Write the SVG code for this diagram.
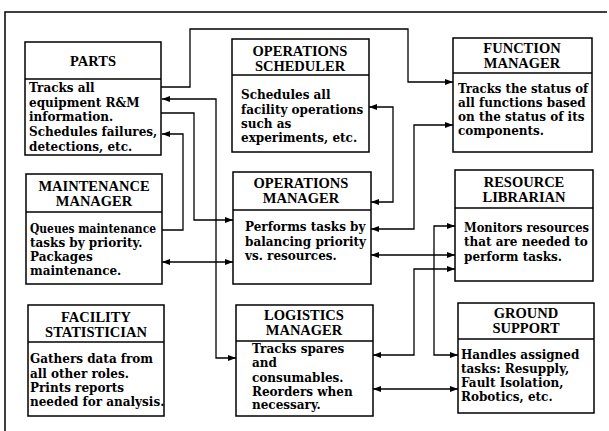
<svg xmlns="http://www.w3.org/2000/svg" width="609" height="431" viewBox="0 0 609 431">
<style>
.bg{fill:#ffffff}
.frame{fill:none;stroke:#000;stroke-width:1.5}
.box{fill:#fff;stroke:#000;stroke-width:1.5}
.div{stroke:#000;stroke-width:1.3}
.hd{font-family:"Liberation Serif","Times New Roman",serif;font-weight:bold;font-size:14.5px;text-anchor:middle;fill:#000}
.bd{font-family:"DejaVu Serif","Liberation Serif",serif;font-weight:bold;font-size:12px;fill:#000}
.cn{fill:none;stroke:#000;stroke-width:1.3}
</style>
<defs>
<marker id="ah" viewBox="0 0 8 6" refX="8" refY="3" markerWidth="8" markerHeight="6" markerUnits="userSpaceOnUse" orient="auto-start-reverse">
<path d="M0,0 L8,3 L0,6 Z" fill="#000"/>
</marker>
</defs>
<rect class="bg" x="0" y="0" width="609" height="431"/>
<path class="frame" d="M5,431 V12 H607"/>

<g id="connectors">
<path class="cn" d="M161,87 H190 V29 H408 V82 H453" marker-end="url(#ah)"/>
<path class="cn" d="M162,99 H216 V358 H236" marker-start="url(#ah)" marker-end="url(#ah)"/>
<path class="cn" d="M161,113 H194 V220 H233" marker-end="url(#ah)"/>
<path class="cn" d="M162,230 H183 V134 H162" marker-end="url(#ah)"/>
<path class="cn" d="M162,262 H233" marker-start="url(#ah)" marker-end="url(#ah)"/>
<path class="cn" d="M369,107 H393 V202 H371" marker-start="url(#ah)" marker-end="url(#ah)"/>
<path class="cn" d="M371,229 H414 V125 H453" marker-start="url(#ah)" marker-end="url(#ah)"/>
<path class="cn" d="M371,255 H455" marker-start="url(#ah)" marker-end="url(#ah)"/>
<path class="cn" d="M373,355 H414 V269 H455" marker-start="url(#ah)" marker-end="url(#ah)"/>
<path class="cn" d="M455,226 H434 V355 H458" marker-start="url(#ah)" marker-end="url(#ah)"/>
<path class="cn" d="M373,389 H458" marker-start="url(#ah)" marker-end="url(#ah)"/>
</g>

<g id="parts">
<rect class="box" x="25" y="42" width="136" height="113"/>
<line class="div" x1="25" y1="79" x2="161" y2="79"/>
<text class="hd" x="93" y="66">PARTS</text>
<text class="bd" x="29" y="92">Tracks all</text>
<text class="bd" x="29" y="107">equipment R&amp;M</text>
<text class="bd" x="29" y="121">information.</text>
<text class="bd" x="29" y="136">Schedules failures,</text>
<text class="bd" x="29" y="151">detections, etc.</text>
</g>

<g id="operations-scheduler">
<rect class="box" x="232" y="39" width="137" height="113"/>
<line class="div" x1="232" y1="75" x2="369" y2="75"/>
<text class="hd" x="300" y="56">OPERATIONS</text>
<text class="hd" x="300" y="71">SCHEDULER</text>
<text class="bd" x="241" y="99">Schedules all</text>
<text class="bd" x="241" y="114">facility operations</text>
<text class="bd" x="241" y="128">such as</text>
<text class="bd" x="241" y="142">experiments, etc.</text>
</g>

<g id="function-manager">
<rect class="box" x="453" y="38" width="139" height="114"/>
<line class="div" x1="453" y1="73" x2="592" y2="73"/>
<text class="hd" x="522" y="53">FUNCTION</text>
<text class="hd" x="522" y="68">MANAGER</text>
<text class="bd" x="458" y="93" textLength="130" lengthAdjust="spacingAndGlyphs">Tracks the status of</text>
<text class="bd" x="458" y="107">all functions based</text>
<text class="bd" x="458" y="121">on the status of its</text>
<text class="bd" x="458" y="135">components.</text>
</g>

<g id="maintenance-manager">
<rect class="box" x="26" y="174" width="136" height="110"/>
<line class="div" x1="26" y1="212" x2="162" y2="212"/>
<text class="hd" x="94" y="191">MAINTENANCE</text>
<text class="hd" x="94" y="206">MANAGER</text>
<text class="bd" x="30" y="233" textLength="126" lengthAdjust="spacingAndGlyphs">Queues maintenance</text>
<text class="bd" x="30" y="247">tasks by priority.</text>
<text class="bd" x="30" y="261">Packages</text>
<text class="bd" x="30" y="275">maintenance.</text>
</g>

<g id="operations-manager">
<rect class="box" x="233" y="172" width="138" height="112"/>
<line class="div" x1="233" y1="210" x2="371" y2="210"/>
<text class="hd" x="301" y="188">OPERATIONS</text>
<text class="hd" x="301" y="203">MANAGER</text>
<text class="bd" x="245" y="231">Performs tasks by</text>
<text class="bd" x="245" y="246">balancing priority</text>
<text class="bd" x="245" y="260">vs. resources.</text>
</g>

<g id="resource-librarian">
<rect class="box" x="455" y="170" width="138" height="111"/>
<line class="div" x1="455" y1="208" x2="593" y2="208"/>
<text class="hd" x="524" y="187">RESOURCE</text>
<text class="hd" x="524" y="202">LIBRARIAN</text>
<text class="bd" x="464" y="232" textLength="125" lengthAdjust="spacingAndGlyphs">Monitors resources</text>
<text class="bd" x="464" y="246">that are needed to</text>
<text class="bd" x="464" y="261">perform tasks.</text>
</g>

<g id="facility-statistician">
<rect class="box" x="28" y="305" width="136" height="111"/>
<line class="div" x1="28" y1="342" x2="164" y2="342"/>
<text class="hd" x="96" y="322">FACILITY</text>
<text class="hd" x="96" y="337">STATISTICIAN</text>
<text class="bd" x="30" y="363">Gathers data from</text>
<text class="bd" x="30" y="378">all other roles.</text>
<text class="bd" x="30" y="392">Prints reports</text>
<text class="bd" x="30" y="406">needed for analysis.</text>
</g>

<g id="logistics-manager">
<rect class="box" x="236" y="305" width="137" height="111"/>
<line class="div" x1="236" y1="341" x2="373" y2="341"/>
<text class="hd" x="304" y="320">LOGISTICS</text>
<text class="hd" x="304" y="335">MANAGER</text>
<text class="bd" x="252" y="353">Tracks spares</text>
<text class="bd" x="252" y="367">and</text>
<text class="bd" x="252" y="382">consumables.</text>
<text class="bd" x="252" y="396">Reorders when</text>
<text class="bd" x="252" y="409">necessary.</text>
</g>

<g id="ground-support">
<rect class="box" x="458" y="303" width="136" height="110"/>
<line class="div" x1="458" y1="339" x2="594" y2="339"/>
<text class="hd" x="526" y="318">GROUND</text>
<text class="hd" x="526" y="333">SUPPORT</text>
<text class="bd" x="461" y="359">Handles assigned</text>
<text class="bd" x="461" y="373">tasks: Resupply,</text>
<text class="bd" x="461" y="387">Fault Isolation,</text>
<text class="bd" x="461" y="401">Robotics, etc.</text>
</g>
</svg>
